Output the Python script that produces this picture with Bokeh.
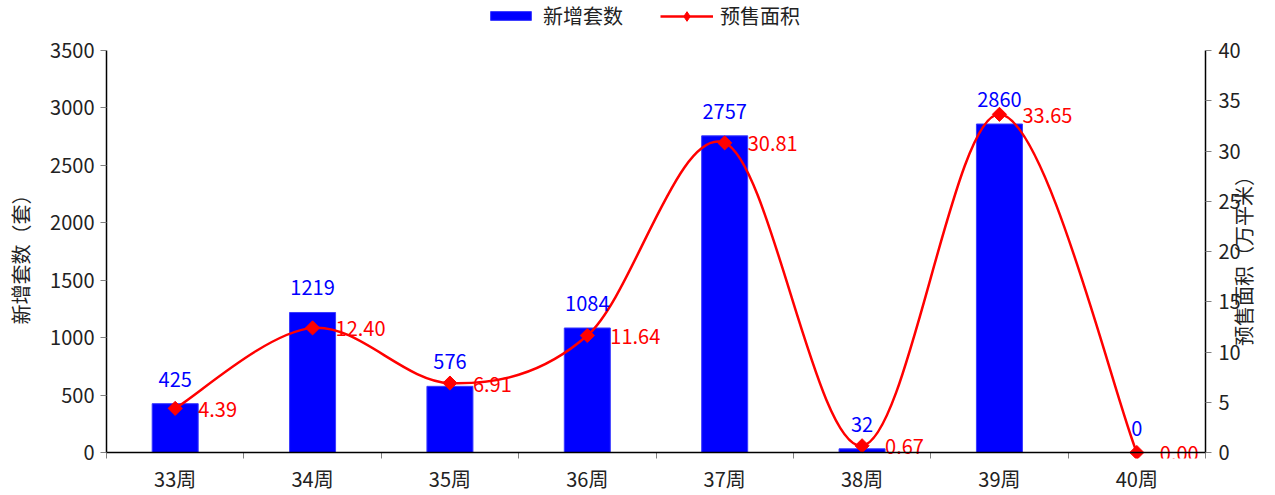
import math
from bokeh.plotting import figure
from bokeh.models import (Range1d, LinearAxis, FixedTicker, Legend, LegendItem,
                          Span)
from bokeh.core.properties import value
from bokeh.embed import file_html
from bokeh.resources import INLINE

categories = ["33周", "34周", "35周", "36周", "37周", "38周", "39周", "40周"]
new_units = [425, 1219, 576, 1084, 2757, 32, 2860, 0]
presale_area = [4.39, 12.40, 6.91, 11.64, 30.81, 0.67, 33.65, 0.00]
left_ticks = [0, 500, 1000, 1500, 2000, 2500, 3000, 3500]
right_ticks = [0, 5, 10, 15, 20, 25, 30, 35, 40]
right_title = "预售面积（万平米）"

FONT = "Noto Sans CJK SC"
FS = "20px"
BLUE = "#0000FF"
RED = "#FF0000"
TXT = "#222222"

# pixel geometry: axes 0..max span 402 px; frame extends 50 px above and 6 px below
L_MAX, R_MAX = 3500, 40
PX = 402.0
l_per = L_MAX / PX
r_per = R_MAX / PX

xs = [i + 0.5 for i in range(len(categories))]

p = figure(width=1275, height=495, output_backend="svg", toolbar_location=None,
           x_range=Range1d(0, len(categories)),
           y_range=Range1d(-6 * l_per, L_MAX + 50 * l_per),
           min_border_left=106, min_border_right=68, min_border_top=0,
           min_border_bottom=37)
p.outline_line_color = None
p.xgrid.visible = False
p.ygrid.visible = False
p.extra_y_ranges = {"area": Range1d(-6 * r_per, R_MAX + 50 * r_per)}

# bars
bars = p.vbar(x=xs, top=new_units, width=0.335, fill_color=BLUE,
              line_color="#3a3aff", line_width=1)

# x baseline at zero
p.add_layout(Span(location=0, dimension="width", line_color="black",
                  line_width=1.5))

# smooth line (Catmull-Rom style bezier through the data points)
pts = list(zip(xs, presale_area))
n = len(pts)
x0s, y0s, x1s, y1s, cx0s, cy0s, cx1s, cy1s = [], [], [], [], [], [], [], []
for i in range(n - 1):
    p0 = pts[i - 1] if i > 0 else pts[i]
    p1 = pts[i]
    p2 = pts[i + 1]
    p3 = pts[i + 2] if i + 2 < n else pts[i + 1]
    t = 1 / 6
    x0s.append(p1[0]); y0s.append(p1[1])
    x1s.append(p2[0]); y1s.append(p2[1])
    cx0s.append(p1[0] + (p2[0] - p0[0]) * t); cy0s.append(p1[1] + (p2[1] - p0[1]) * t)
    cx1s.append(p2[0] - (p3[0] - p1[0]) * t); cy1s.append(p2[1] - (p3[1] - p1[1]) * t)
p.bezier(x0=x0s, y0=y0s, x1=x1s, y1=y1s, cx0=cx0s, cy0=cy0s, cx1=cx1s, cy1=cy1s,
         line_color=RED, line_width=2.5, y_range_name="area")
p.scatter(x=xs, y=presale_area, marker="square", size=10, angle=math.pi / 4,
          fill_color=RED, line_color=RED, y_range_name="area")

# value labels
p.text(x=xs, y=new_units, text=[str(v) for v in new_units], text_align="center",
       text_baseline="bottom", y_offset=-17, text_color=BLUE,
       text_font=value(FONT), text_font_size=FS)
p.text(x=xs, y=presale_area, text=["%.2f" % v for v in presale_area],
       text_align="left", text_baseline="middle", x_offset=23, y_offset=1,
       text_color=RED, text_font=value(FONT), text_font_size=FS,
       y_range_name="area")

# x axis (line hidden; the Span draws the zero line, ticks point inward to it)
xa = p.xaxis[0]
xa.ticker = FixedTicker(ticks=xs, minor_ticks=list(range(len(categories) + 1)))
xa.major_label_overrides = {x: c for x, c in zip(xs, categories)}
xa.major_tick_out = 0
xa.major_tick_in = 0
xa.minor_tick_out = 0
xa.minor_tick_in = 6
xa.minor_tick_line_color = "#808080"
xa.axis_line_color = None
xa.major_label_text_font = FONT
xa.major_label_text_font_size = FS
xa.major_label_text_color = TXT
xa.major_label_standoff = 5

# left axis
ya = p.yaxis[0]
ya.ticker = FixedTicker(ticks=left_ticks)
ya.bounds = (0, L_MAX)
ya.minor_tick_out = 0
ya.minor_tick_in = 0
ya.major_tick_out = 6
ya.major_tick_in = 0
ya.major_tick_line_color = "#808080"
ya.axis_line_color = "black"
ya.axis_line_width = 1.5
ya.major_label_text_font = FONT
ya.major_label_text_font_size = FS
ya.major_label_text_color = TXT
ya.major_label_standoff = 6
ya.axis_label = "新增套数（套）\u3000\u3000\u3000"
ya.axis_label_text_font = FONT
ya.axis_label_text_font_size = FS
ya.axis_label_text_font_style = "normal"
ya.axis_label_text_color = TXT
ya.axis_label_standoff = 12

# right axis
ra = LinearAxis(y_range_name="area", ticker=FixedTicker(ticks=right_ticks))
ra.bounds = (0, R_MAX)
ra.minor_tick_out = 0
ra.minor_tick_in = 0
ra.major_tick_out = 6
ra.major_tick_in = 0
ra.major_tick_line_color = "#808080"
ra.axis_line_color = "black"
ra.axis_line_width = 1.5
ra.major_label_text_font = FONT
ra.major_label_text_font_size = FS
ra.major_label_text_color = TXT
ra.major_label_standoff = 7
p.add_layout(ra, "right")

# right axis title: a bare axis whose single rotated label reads bottom-to-top
title_pos = 10.6
ta = LinearAxis(y_range_name="area", ticker=FixedTicker(ticks=[title_pos]))
ta.major_label_overrides = {title_pos: right_title}
ta.major_label_orientation = math.pi / 2
ta.axis_line_color = None
ta.major_tick_line_color = None
ta.major_tick_out = 0
ta.major_tick_in = 0
ta.minor_tick_out = 0
ta.minor_tick_in = 0
ta.major_label_standoff = 0
ta.major_label_text_font = FONT
ta.major_label_text_font_size = FS
ta.major_label_text_color = TXT
p.add_layout(ta, "right")

# legends (dummy renderers kept outside the visible frame)
dl = p.line(x=[0, 1], y=[-5000, -5000], line_color=RED, line_width=2.5)
ds = p.scatter(x=[0.5], y=[-5000], marker="diamond", size=14,
               fill_color=RED, line_color=RED)
common = dict(orientation="horizontal", label_standoff=7,
              label_text_font=FONT, label_text_font_size=FS,
              label_text_color=TXT, border_line_color=None,
              background_fill_alpha=0, padding=2, margin=0,
              label_height=24)
leg1 = Legend(items=[LegendItem(label="新增套数", renderers=[bars])],
              location=(379, 428), glyph_width=51, glyph_height=11, **common)
leg2 = Legend(items=[LegendItem(label="预售面积", renderers=[dl, ds])],
              location=(554, 428), glyph_width=53, glyph_height=24, **common)
p.add_layout(leg1, "center")
p.add_layout(leg2, "center")

open("out.html", "w").write(file_html(p, INLINE))
